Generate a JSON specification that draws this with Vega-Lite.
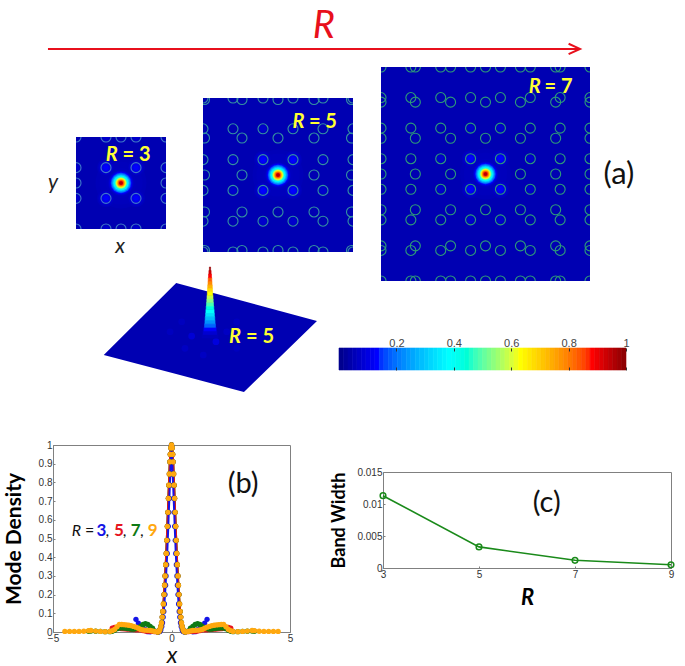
{"$schema":"https://vega.github.io/schema/vega-lite/v6.json","padding":0,"background":"white","spacing":0,
"config":{"view":{"stroke":null}},
"datasets":{
"peak":[
{"x":-1.5,"y":-0.5,"r":0.14,"d":0.06},{"x":-1.5,"y":0.5,"r":0.14,"d":0.06},{"x":1.5,"y":-0.5,"r":0.14,"d":0.06},{"x":1.5,"y":0.5,"r":0.14,"d":0.06},{"x":-0.5,"y":-1.5,"r":0.14,"d":0.06},{"x":-0.5,"y":1.5,"r":0.14,"d":0.06},{"x":0.5,"y":-1.5,"r":0.14,"d":0.06},{"x":0.5,"y":1.5,"r":0.14,"d":0.06},
{"x":-1.5,"y":-0.5,"r":0.1,"d":0.07},{"x":-1.5,"y":0.5,"r":0.1,"d":0.07},{"x":1.5,"y":-0.5,"r":0.1,"d":0.07},{"x":1.5,"y":0.5,"r":0.1,"d":0.07},{"x":-0.5,"y":-1.5,"r":0.1,"d":0.07},{"x":-0.5,"y":1.5,"r":0.1,"d":0.07},{"x":0.5,"y":-1.5,"r":0.1,"d":0.07},{"x":0.5,"y":1.5,"r":0.1,"d":0.07},
{"x":0,"y":0,"r":0.85,"d":0.047},{"x":0,"y":0,"r":0.72,"d":0.052},
{"x":-0.5,"y":-0.5,"r":0.3,"d":0.052},{"x":-0.5,"y":0.5,"r":0.3,"d":0.052},{"x":0.5,"y":-0.5,"r":0.3,"d":0.052},{"x":0.5,"y":0.5,"r":0.3,"d":0.052},
{"x":-0.5,"y":-0.5,"r":0.25,"d":0.065},{"x":-0.5,"y":0.5,"r":0.25,"d":0.065},{"x":0.5,"y":-0.5,"r":0.25,"d":0.065},{"x":0.5,"y":0.5,"r":0.25,"d":0.065},
{"x":-0.5,"y":-0.5,"r":0.2,"d":0.08},{"x":-0.5,"y":0.5,"r":0.2,"d":0.08},{"x":0.5,"y":-0.5,"r":0.2,"d":0.08},{"x":0.5,"y":0.5,"r":0.2,"d":0.08},
{"x":-0.5,"y":-0.5,"r":0.16,"d":0.095},{"x":-0.5,"y":0.5,"r":0.16,"d":0.095},{"x":0.5,"y":-0.5,"r":0.16,"d":0.095},{"x":0.5,"y":0.5,"r":0.16,"d":0.095},
{"x":-0.5,"y":-0.5,"r":0.12,"d":0.11},{"x":-0.5,"y":0.5,"r":0.12,"d":0.11},{"x":0.5,"y":-0.5,"r":0.12,"d":0.11},{"x":0.5,"y":0.5,"r":0.12,"d":0.11},
{"x":-0.5,"y":-0.5,"r":0.08,"d":0.125},{"x":-0.5,"y":0.5,"r":0.08,"d":0.125},{"x":0.5,"y":-0.5,"r":0.08,"d":0.125},{"x":0.5,"y":0.5,"r":0.08,"d":0.125},
{"x":0,"y":0,"r":0.5,"d":0.055},{"x":0,"y":0,"r":0.42,"d":0.07},{"x":0,"y":0,"r":0.39,"d":0.09},{"x":0,"y":0,"r":0.365,"d":0.12},{"x":0,"y":0,"r":0.34,"d":0.16},{"x":0,"y":0,"r":0.315,"d":0.2},{"x":0,"y":0,"r":0.29,"d":0.25},{"x":0,"y":0,"r":0.27,"d":0.3},{"x":0,"y":0,"r":0.245,"d":0.36},{"x":0,"y":0,"r":0.22,"d":0.42},{"x":0,"y":0,"r":0.2,"d":0.49},{"x":0,"y":0,"r":0.175,"d":0.565},{"x":0,"y":0,"r":0.155,"d":0.64},{"x":0,"y":0,"r":0.13,"d":0.715},{"x":0,"y":0,"r":0.11,"d":0.785},{"x":0,"y":0,"r":0.09,"d":0.845},{"x":0,"y":0,"r":0.07,"d":0.91},{"x":0,"y":0,"r":0.05,"d":0.95}
],
"bar":[{"a":0,"b":0.0156},{"a":0.0156,"b":0.0313},{"a":0.0313,"b":0.0469},{"a":0.0469,"b":0.0625},{"a":0.0625,"b":0.0781},{"a":0.0781,"b":0.0938},{"a":0.0938,"b":0.1094},{"a":0.1094,"b":0.125},{"a":0.125,"b":0.1406},{"a":0.1406,"b":0.1563},{"a":0.1563,"b":0.1719},{"a":0.1719,"b":0.1875},{"a":0.1875,"b":0.2031},{"a":0.2031,"b":0.2188},{"a":0.2188,"b":0.2344},{"a":0.2344,"b":0.25},{"a":0.25,"b":0.2656},{"a":0.2656,"b":0.2813},{"a":0.2813,"b":0.2969},{"a":0.2969,"b":0.3125},{"a":0.3125,"b":0.3281},{"a":0.3281,"b":0.3438},{"a":0.3438,"b":0.3594},{"a":0.3594,"b":0.375},{"a":0.375,"b":0.3906},{"a":0.3906,"b":0.4063},{"a":0.4063,"b":0.4219},{"a":0.4219,"b":0.4375},{"a":0.4375,"b":0.4531},{"a":0.4531,"b":0.4688},{"a":0.4688,"b":0.4844},{"a":0.4844,"b":0.5},{"a":0.5,"b":0.5156},{"a":0.5156,"b":0.5313},{"a":0.5313,"b":0.5469},{"a":0.5469,"b":0.5625},{"a":0.5625,"b":0.5781},{"a":0.5781,"b":0.5938},{"a":0.5938,"b":0.6094},{"a":0.6094,"b":0.625},{"a":0.625,"b":0.6406},{"a":0.6406,"b":0.6563},{"a":0.6563,"b":0.6719},{"a":0.6719,"b":0.6875},{"a":0.6875,"b":0.7031},{"a":0.7031,"b":0.7188},{"a":0.7188,"b":0.7344},{"a":0.7344,"b":0.75},{"a":0.75,"b":0.7656},{"a":0.7656,"b":0.7813},{"a":0.7813,"b":0.7969},{"a":0.7969,"b":0.8125},{"a":0.8125,"b":0.8281},{"a":0.8281,"b":0.8438},{"a":0.8438,"b":0.8594},{"a":0.8594,"b":0.875},{"a":0.875,"b":0.8906},{"a":0.8906,"b":0.9063},{"a":0.9063,"b":0.9219},{"a":0.9219,"b":0.9375},{"a":0.9375,"b":0.9531},{"a":0.9531,"b":0.9688},{"a":0.9688,"b":0.9844},{"a":0.9844,"b":1}],
"curves":[
{"x":-4.5,"r9":0.003},{"x":-4.3,"r9":0.003},{"x":-4.1,"r9":0.003},{"x":-3.9,"r9":0.003},{"x":-3.7,"r9":0.004},
{"x":-3.5,"r7":0.004,"r9":0.007},{"x":-3.4,"r7":0.005,"r9":0.008},{"x":-3.2,"r7":0.004,"r9":0.005},{"x":-3.0,"r7":0.003,"r9":0.003},{"x":-2.8,"r7":0.002,"r9":0.002},{"x":-2.6,"r7":0.002,"r9":0.003},
{"x":-2.5,"r5":0.02,"r7":0.004,"r9":0.007},{"x":-2.4,"r5":0.024,"r7":0.01,"r9":0.014},{"x":-2.3,"r5":0.022,"r7":0.018,"r9":0.028},{"x":-2.2,"r5":0.02,"r7":0.022,"r9":0.04},{"x":-2.1,"r5":0.018,"r7":0.022,"r9":0.04},{"x":-2.0,"r5":0.017,"r7":0.021,"r9":0.039},{"x":-1.9,"r5":0.016,"r7":0.02,"r9":0.038},{"x":-1.8,"r5":0.015,"r7":0.018,"r9":0.036},{"x":-1.7,"r5":0.014,"r7":0.016,"r9":0.034},{"x":-1.6,"r5":0.013,"r7":0.015,"r9":0.03},
{"x":-1.5,"r3":0.068,"r5":0.012,"r7":0.018,"r9":0.026},{"x":-1.4,"r3":0.048,"r5":0.012,"r7":0.022,"r9":0.02},{"x":-1.3,"r3":0.03,"r5":0.012,"r7":0.03,"r9":0.014},{"x":-1.2,"r3":0.022,"r5":0.008,"r7":0.04,"r9":0.011},{"x":-1.1,"r3":0.012,"r5":0.005,"r7":0.045,"r9":0.01},{"x":-1.0,"r3":0.002,"r5":0.004,"r7":0.04,"r9":0.009},{"x":-0.9,"r3":0.001,"r5":0.004,"r7":0.03,"r9":0.008},{"x":-0.8,"r3":0.003,"r5":0.004,"r7":0.02,"r9":0.006},{"x":-0.7,"r3":0.004,"r5":0.002,"r7":0.004,"r9":0.003},
{"x":-0.58,"r5":0,"r7":0,"r9":0},{"x":-0.54,"r3":0},{"x":-0.53,"r5":0.003,"r7":0.003,"r9":0.003},{"x":-0.49,"r3":0.003},{"x":-0.49,"r5":0.012,"r7":0.012,"r9":0.012},{"x":-0.45,"r3":0.012,"r5":0.03,"r7":0.03,"r9":0.03},{"x":-0.42,"r5":0.05,"r7":0.05,"r9":0.05},{"x":-0.41,"r3":0.03},{"x":-0.39,"r5":0.08,"r7":0.08,"r9":0.08},{"x":-0.38,"r3":0.05},{"x":-0.365,"r5":0.11,"r7":0.11,"r9":0.11},{"x":-0.35,"r3":0.08},{"x":-0.34,"r5":0.15,"r7":0.15,"r9":0.15},{"x":-0.325,"r3":0.11},{"x":-0.315,"r5":0.2,"r7":0.2,"r9":0.2},{"x":-0.3,"r3":0.15},{"x":-0.29,"r5":0.25,"r7":0.25,"r9":0.25},{"x":-0.275,"r3":0.2},{"x":-0.27,"r5":0.3,"r7":0.3,"r9":0.3},{"x":-0.25,"r3":0.25},{"x":-0.245,"r5":0.36,"r7":0.36,"r9":0.36},{"x":-0.23,"r3":0.3},{"x":-0.22,"r5":0.42,"r7":0.42,"r9":0.42},{"x":-0.205,"r3":0.36},{"x":-0.2,"r5":0.49,"r7":0.49,"r9":0.49},{"x":-0.18,"r3":0.42},{"x":-0.175,"r5":0.565,"r7":0.565,"r9":0.565},{"x":-0.16,"r3":0.49},{"x":-0.155,"r5":0.64,"r7":0.64,"r9":0.64},{"x":-0.135,"r3":0.565},{"x":-0.13,"r5":0.715,"r7":0.715,"r9":0.715},{"x":-0.115,"r3":0.64},{"x":-0.11,"r5":0.785,"r7":0.785,"r9":0.785},{"x":-0.09,"r3":0.715,"r5":0.845,"r7":0.845,"r9":0.845},{"x":-0.07,"r3":0.785,"r5":0.91,"r7":0.91,"r9":0.91},{"x":-0.05,"r3":0.845,"r5":0.95,"r7":0.95,"r9":0.95},{"x":-0.03,"r3":0.91,"r5":0.985,"r7":0.985,"r9":0.985},
{"x":0,"r3":1,"r5":1,"r7":1,"r9":1},
{"x":0.03,"r3":0.91,"r5":0.985,"r7":0.985,"r9":0.985},{"x":0.05,"r3":0.845,"r5":0.95,"r7":0.95,"r9":0.95},{"x":0.07,"r3":0.785,"r5":0.91,"r7":0.91,"r9":0.91},{"x":0.09,"r3":0.715,"r5":0.845,"r7":0.845,"r9":0.845},{"x":0.11,"r5":0.785,"r7":0.785,"r9":0.785},{"x":0.115,"r3":0.64},{"x":0.13,"r5":0.715,"r7":0.715,"r9":0.715},{"x":0.135,"r3":0.565},{"x":0.155,"r5":0.64,"r7":0.64,"r9":0.64},{"x":0.16,"r3":0.49},{"x":0.175,"r5":0.565,"r7":0.565,"r9":0.565},{"x":0.18,"r3":0.42},{"x":0.2,"r5":0.49,"r7":0.49,"r9":0.49},{"x":0.205,"r3":0.36},{"x":0.22,"r5":0.42,"r7":0.42,"r9":0.42},{"x":0.23,"r3":0.3},{"x":0.245,"r5":0.36,"r7":0.36,"r9":0.36},{"x":0.25,"r3":0.25},{"x":0.27,"r5":0.3,"r7":0.3,"r9":0.3},{"x":0.275,"r3":0.2},{"x":0.29,"r5":0.25,"r7":0.25,"r9":0.25},{"x":0.3,"r3":0.15},{"x":0.315,"r5":0.2,"r7":0.2,"r9":0.2},{"x":0.325,"r3":0.11},{"x":0.34,"r5":0.15,"r7":0.15,"r9":0.15},{"x":0.35,"r3":0.08},{"x":0.365,"r5":0.11,"r7":0.11,"r9":0.11},{"x":0.38,"r3":0.05},{"x":0.39,"r5":0.08,"r7":0.08,"r9":0.08},{"x":0.41,"r3":0.03},{"x":0.42,"r5":0.05,"r7":0.05,"r9":0.05},{"x":0.45,"r3":0.012,"r5":0.03,"r7":0.03,"r9":0.03},{"x":0.49,"r3":0.003},{"x":0.49,"r5":0.012,"r7":0.012,"r9":0.012},{"x":0.53,"r5":0.003,"r7":0.003,"r9":0.003},{"x":0.54,"r3":0},{"x":0.58,"r5":0,"r7":0,"r9":0},
{"x":0.7,"r3":0.004,"r5":0.002,"r7":0.004,"r9":0.003},{"x":0.8,"r3":0.003,"r5":0.004,"r7":0.02,"r9":0.006},{"x":0.9,"r3":0.001,"r5":0.004,"r7":0.03,"r9":0.008},{"x":1.0,"r3":0.002,"r5":0.004,"r7":0.04,"r9":0.009},{"x":1.1,"r3":0.012,"r5":0.005,"r7":0.045,"r9":0.01},{"x":1.2,"r3":0.022,"r5":0.008,"r7":0.04,"r9":0.011},{"x":1.3,"r3":0.03,"r5":0.012,"r7":0.03,"r9":0.014},{"x":1.4,"r3":0.048,"r5":0.012,"r7":0.022,"r9":0.02},{"x":1.5,"r3":0.068,"r5":0.012,"r7":0.018,"r9":0.026},
{"x":1.6,"r5":0.013,"r7":0.015,"r9":0.03},{"x":1.7,"r5":0.014,"r7":0.016,"r9":0.034},{"x":1.8,"r5":0.015,"r7":0.018,"r9":0.036},{"x":1.9,"r5":0.016,"r7":0.02,"r9":0.038},{"x":2.0,"r5":0.017,"r7":0.021,"r9":0.039},{"x":2.1,"r5":0.018,"r7":0.022,"r9":0.04},{"x":2.2,"r5":0.02,"r7":0.022,"r9":0.04},{"x":2.3,"r5":0.022,"r7":0.018,"r9":0.028},{"x":2.4,"r5":0.024,"r7":0.01,"r9":0.014},{"x":2.5,"r5":0.02,"r7":0.004,"r9":0.007},
{"x":2.6,"r7":0.002,"r9":0.003},{"x":2.8,"r7":0.002,"r9":0.002},{"x":3.0,"r7":0.003,"r9":0.003},{"x":3.2,"r7":0.004,"r9":0.005},{"x":3.4,"r7":0.005,"r9":0.008},{"x":3.5,"r7":0.004,"r9":0.007},
{"x":3.7,"r9":0.004},{"x":3.9,"r9":0.003},{"x":4.1,"r9":0.003},{"x":4.3,"r9":0.003},{"x":4.5,"r9":0.003}
]
},
"vconcat":[
{"width":685,"height":67,"layer":[
{"data":{"values":[{"from":3,"to":9,"lvl":0.27}]},"mark":{"type":"rule","color":"#e8101c","strokeWidth":2},"encoding":{"x":{"field":"from","type":"quantitative","scale":{"domain":[2.459,10.184],"nice":false,"zero":false},"axis":null},"x2":{"field":"to"},"y":{"field":"lvl","type":"quantitative","scale":{"domain":[0,1],"nice":false},"axis":null}}},
{"data":{"values":[{"to":9,"lvl":0.27}]},"mark":{"type":"point","shape":"M -2 -0.9 L 0 0 L -2 0.9","filled":false,"color":"#e8101c","strokeWidth":2,"size":130,"opacity":1},"encoding":{"x":{"field":"to","type":"quantitative"},"y":{"field":"lvl","type":"quantitative"}}},
{"data":{"values":[{"t":6.11,"lvl":0.59,"label":"R"}]},"mark":{"type":"text","font":"Lato","fontStyle":"italic","fontSize":38,"color":"#e8101c"},"encoding":{"x":{"field":"t","type":"quantitative"},"y":{"field":"lvl","type":"quantitative"},"text":{"field":"label"}}}
]},
{"vconcat":[
{"hconcat":[
{"width":76,"height":162,"data":{"values":[{"a":0.697,"b":0.284,"t":"y"}]},"mark":{"type":"text","font":"Lato","fontStyle":"italic","fontSize":21,"color":"#222"},"encoding":{"x":{"field":"a","type":"quantitative","scale":{"domain":[0,1],"nice":false},"axis":null},"y":{"field":"b","type":"quantitative","scale":{"domain":[0,1],"nice":false},"axis":null},"text":{"field":"t"}}},
{"vconcat":[
{"width":90,"height":70,"data":{"values":[]},"mark":"point"},
{"width":90,"height":92,"layer":[
{"data":{"values":[{"d":0.04}]},"mark":"rect","encoding":{"color":{"field":"d","type":"quantitative","legend":null,"scale":{"domain":[0,0.125,0.375,0.625,0.875,1],"range":["#00008f","#0000ff","#00ffff","#ffff00","#ff0000","#800000"]}}}},
{"data":{"name":"peak"},"mark":{"type":"point","filled":true,"opacity":1,"strokeWidth":0,"clip":true},"encoding":{"x":{"field":"x","type":"quantitative","scale":{"domain":[-1.5,1.5],"nice":false,"zero":false},"axis":null},"y":{"field":"y","type":"quantitative","scale":{"domain":[-1.5,1.5],"nice":false,"zero":false},"axis":null},"size":{"field":"r","type":"quantitative","legend":null,"scale":{"type":"pow","exponent":2,"domain":[0,1],"range":[0,3600]}},"color":{"field":"d","type":"quantitative"}}},
{"data":{"values":[{"x":-1.5,"y":-1.5},{"x":-1.5,"y":-0.5},{"x":-1.5,"y":0},{"x":-1.5,"y":0.5},{"x":-1.5,"y":1.5},{"x":-0.5,"y":-1.5},{"x":-0.5,"y":-0.5},{"x":-0.5,"y":0.5},{"x":-0.5,"y":1.5},{"x":0,"y":-1.5},{"x":0,"y":1.5},{"x":0.5,"y":-1.5},{"x":0.5,"y":-0.5},{"x":0.5,"y":0.5},{"x":0.5,"y":1.5},{"x":1.5,"y":-1.5},{"x":1.5,"y":-0.5},{"x":1.5,"y":0},{"x":1.5,"y":0.5},{"x":1.5,"y":1.5}]},"mark":{"type":"point","filled":false,"color":"#3f78c8","strokeWidth":1.1,"size":100,"opacity":1,"clip":true},"encoding":{"x":{"field":"x","type":"quantitative"},"y":{"field":"y","type":"quantitative"}}},
{"data":{"values":[{"x":-0.51,"y":0.9,"t":"R"}]},"mark":{"type":"text","font":"Lato","fontWeight":"bold","fontStyle":"italic","fontSize":20,"align":"left","color":"#ffff33"},"encoding":{"x":{"field":"x","type":"quantitative"},"y":{"field":"y","type":"quantitative"},"text":{"field":"t"}}},
{"data":{"values":[{"x":0.05,"y":0.9,"t":"= 3"}]},"mark":{"type":"text","font":"Lato","fontWeight":"bold","fontSize":20,"align":"left","color":"#ffff33"},"encoding":{"x":{"field":"x","type":"quantitative"},"y":{"field":"y","type":"quantitative"},"text":{"field":"t"}}}
]},
{"width":90,"height":30,"data":{"values":[{"a":0.49,"b":0.4,"t":"x"}]},"mark":{"type":"text","font":"Lato","fontStyle":"italic","fontSize":21,"color":"#222"},"encoding":{"x":{"field":"a","type":"quantitative","scale":{"domain":[0,1],"nice":false},"axis":null},"y":{"field":"b","type":"quantitative","scale":{"domain":[0,1],"nice":false},"axis":null},"text":{"field":"t"}}}
],"spacing":0},
{"width":37,"height":1,"data":{"values":[]},"mark":"point"},
{"vconcat":[
{"width":150,"height":31,"data":{"values":[]},"mark":"point"},
{"width":150,"height":154,"layer":[
{"data":{"values":[{"d":0.04}]},"mark":"rect","encoding":{"color":{"field":"d","type":"quantitative","legend":null,"scale":{"domain":[0,0.125,0.375,0.625,0.875,1],"range":["#00008f","#0000ff","#00ffff","#ffff00","#ff0000","#800000"]}}}},
{"data":{"name":"peak"},"mark":{"type":"point","filled":true,"opacity":1,"strokeWidth":0,"clip":true},"encoding":{"x":{"field":"x","type":"quantitative","scale":{"domain":[-2.5,2.5],"nice":false,"zero":false},"axis":null},"y":{"field":"y","type":"quantitative","scale":{"domain":[-2.5,2.5],"nice":false,"zero":false},"axis":null},"size":{"field":"r","type":"quantitative","legend":null,"scale":{"type":"pow","exponent":2,"domain":[0,1],"range":[0,3600]}},"color":{"field":"d","type":"quantitative"}}},
{"data":{"values":[{"x":-2.5,"y":-2.5},{"x":-2.5,"y":-1.5},{"x":-2.5,"y":-0.5},{"x":-2.5,"y":0.5},{"x":-2.5,"y":1.5},{"x":-2.5,"y":2.5},{"x":-1.5,"y":-2.5},{"x":-1.5,"y":-1.5},{"x":-1.5,"y":-0.5},{"x":-1.5,"y":0.5},{"x":-1.5,"y":1.5},{"x":-1.5,"y":2.5},{"x":-0.5,"y":-2.5},{"x":-0.5,"y":-1.5},{"x":-0.5,"y":-0.5},{"x":-0.5,"y":0.5},{"x":-0.5,"y":1.5},{"x":-0.5,"y":2.5},{"x":0.5,"y":-2.5},{"x":0.5,"y":-1.5},{"x":0.5,"y":-0.5},{"x":0.5,"y":0.5},{"x":0.5,"y":1.5},{"x":0.5,"y":2.5},{"x":1.5,"y":-2.5},{"x":1.5,"y":-1.5},{"x":1.5,"y":-0.5},{"x":1.5,"y":0.5},{"x":1.5,"y":1.5},{"x":1.5,"y":2.5},{"x":2.5,"y":-2.5},{"x":2.5,"y":-1.5},{"x":2.5,"y":-0.5},{"x":2.5,"y":0.5},{"x":2.5,"y":1.5},{"x":2.5,"y":2.5},{"x":-2.45,"y":-2.45},{"x":-2.45,"y":-1.2},{"x":-2.45,"y":0},{"x":-2.45,"y":1.2},{"x":-2.45,"y":2.45},{"x":-1.2,"y":-2.45},{"x":-1.2,"y":-1.2},{"x":-1.2,"y":0},{"x":-1.2,"y":1.2},{"x":-1.2,"y":2.45},{"x":0,"y":-2.45},{"x":0,"y":-1.2},{"x":0,"y":1.2},{"x":0,"y":2.45},{"x":1.2,"y":-2.45},{"x":1.2,"y":-1.2},{"x":1.2,"y":0},{"x":1.2,"y":1.2},{"x":1.2,"y":2.45},{"x":2.45,"y":-2.45},{"x":2.45,"y":-1.2},{"x":2.45,"y":0},{"x":2.45,"y":1.2},{"x":2.45,"y":2.45}]},"mark":{"type":"point","filled":false,"color":"#3592a0","strokeWidth":1.1,"size":100,"opacity":1,"clip":true},"encoding":{"x":{"field":"x","type":"quantitative"},"y":{"field":"y","type":"quantitative"}}},
{"data":{"values":[{"x":0.48,"y":1.73,"t":"R"}]},"mark":{"type":"text","font":"Lato","fontWeight":"bold","fontStyle":"italic","fontSize":20,"align":"left","color":"#ffff33"},"encoding":{"x":{"field":"x","type":"quantitative"},"y":{"field":"y","type":"quantitative"},"text":{"field":"t"}}},
{"data":{"values":[{"x":1.03,"y":1.73,"t":"= 5"}]},"mark":{"type":"text","font":"Lato","fontWeight":"bold","fontSize":20,"align":"left","color":"#ffff33"},"encoding":{"x":{"field":"x","type":"quantitative"},"y":{"field":"y","type":"quantitative"},"text":{"field":"t"}}}
]}
],"spacing":0},
{"width":28,"height":1,"data":{"values":[]},"mark":"point"},
{"width":209,"height":214,"layer":[
{"data":{"values":[{"d":0.04}]},"mark":"rect","encoding":{"color":{"field":"d","type":"quantitative","legend":null,"scale":{"domain":[0,0.125,0.375,0.625,0.875,1],"range":["#00008f","#0000ff","#00ffff","#ffff00","#ff0000","#800000"]}}}},
{"data":{"name":"peak"},"mark":{"type":"point","filled":true,"opacity":1,"strokeWidth":0,"clip":true},"encoding":{"x":{"field":"x","type":"quantitative","scale":{"domain":[-3.5,3.5],"nice":false,"zero":false},"axis":null},"y":{"field":"y","type":"quantitative","scale":{"domain":[-3.5,3.5],"nice":false,"zero":false},"axis":{"orient":"right","title":"(a)","ticks":false,"labels":false,"domain":false,"grid":false,"titleAngle":0,"titleFont":"Lato","titleFontWeight":"normal","titleFontSize":31,"titlePadding":13,"titleColor":"#111","titleAlign":"left","titleBaseline":"middle"}},"size":{"field":"r","type":"quantitative","legend":null,"scale":{"type":"pow","exponent":2,"domain":[0,1],"range":[0,3600]}},"color":{"field":"d","type":"quantitative"}}},
{"data":{"values":[{"x":-3.5,"y":-3.5},{"x":-3.5,"y":-2.5},{"x":-3.5,"y":-1.5},{"x":-3.5,"y":-0.5},{"x":-3.5,"y":0.5},{"x":-3.5,"y":1.5},{"x":-3.5,"y":2.5},{"x":-3.5,"y":3.5},{"x":-2.5,"y":-3.5},{"x":-2.5,"y":-2.5},{"x":-2.5,"y":-1.5},{"x":-2.5,"y":-0.5},{"x":-2.5,"y":0.5},{"x":-2.5,"y":1.5},{"x":-2.5,"y":2.5},{"x":-2.5,"y":3.5},{"x":-1.5,"y":-3.5},{"x":-1.5,"y":-2.5},{"x":-1.5,"y":-1.5},{"x":-1.5,"y":-0.5},{"x":-1.5,"y":0.5},{"x":-1.5,"y":1.5},{"x":-1.5,"y":2.5},{"x":-1.5,"y":3.5},{"x":-0.5,"y":-3.5},{"x":-0.5,"y":-2.5},{"x":-0.5,"y":-1.5},{"x":-0.5,"y":-0.5},{"x":-0.5,"y":0.5},{"x":-0.5,"y":1.5},{"x":-0.5,"y":2.5},{"x":-0.5,"y":3.5},{"x":0.5,"y":-3.5},{"x":0.5,"y":-2.5},{"x":0.5,"y":-1.5},{"x":0.5,"y":-0.5},{"x":0.5,"y":0.5},{"x":0.5,"y":1.5},{"x":0.5,"y":2.5},{"x":0.5,"y":3.5},{"x":1.5,"y":-3.5},{"x":1.5,"y":-2.5},{"x":1.5,"y":-1.5},{"x":1.5,"y":-0.5},{"x":1.5,"y":0.5},{"x":1.5,"y":1.5},{"x":1.5,"y":2.5},{"x":1.5,"y":3.5},{"x":2.5,"y":-3.5},{"x":2.5,"y":-2.5},{"x":2.5,"y":-1.5},{"x":2.5,"y":-0.5},{"x":2.5,"y":0.5},{"x":2.5,"y":1.5},{"x":2.5,"y":2.5},{"x":2.5,"y":3.5},{"x":3.5,"y":-3.5},{"x":3.5,"y":-2.5},{"x":3.5,"y":-1.5},{"x":3.5,"y":-0.5},{"x":3.5,"y":0.5},{"x":3.5,"y":1.5},{"x":3.5,"y":2.5},{"x":3.5,"y":3.5},{"x":-3.5,"y":-2.35},{"x":-3.5,"y":-1.17},{"x":-3.5,"y":0},{"x":-3.5,"y":1.17},{"x":-3.5,"y":2.35},{"x":-2.35,"y":-3.5},{"x":-2.35,"y":-2.35},{"x":-2.35,"y":-1.17},{"x":-2.35,"y":0},{"x":-2.35,"y":1.17},{"x":-2.35,"y":2.35},{"x":-2.35,"y":3.5},{"x":-1.17,"y":-3.5},{"x":-1.17,"y":-2.35},{"x":-1.17,"y":-1.17},{"x":-1.17,"y":0},{"x":-1.17,"y":1.17},{"x":-1.17,"y":2.35},{"x":-1.17,"y":3.5},{"x":0,"y":-3.5},{"x":0,"y":-2.35},{"x":0,"y":-1.17},{"x":0,"y":1.17},{"x":0,"y":2.35},{"x":0,"y":3.5},{"x":1.17,"y":-3.5},{"x":1.17,"y":-2.35},{"x":1.17,"y":-1.17},{"x":1.17,"y":0},{"x":1.17,"y":1.17},{"x":1.17,"y":2.35},{"x":1.17,"y":3.5},{"x":2.35,"y":-3.5},{"x":2.35,"y":-2.35},{"x":2.35,"y":-1.17},{"x":2.35,"y":0},{"x":2.35,"y":1.17},{"x":2.35,"y":2.35},{"x":2.35,"y":3.5},{"x":3.5,"y":-2.35},{"x":3.5,"y":-1.17},{"x":3.5,"y":0},{"x":3.5,"y":1.17},{"x":3.5,"y":2.35}]},"mark":{"type":"point","filled":false,"color":"#2e9c78","strokeWidth":1.1,"size":100,"opacity":1,"clip":true},"encoding":{"x":{"field":"x","type":"quantitative"},"y":{"field":"y","type":"quantitative"}}},
{"data":{"values":[{"x":1.45,"y":2.83,"t":"R"}]},"mark":{"type":"text","font":"Lato","fontWeight":"bold","fontStyle":"italic","fontSize":20,"align":"left","color":"#ffff33"},"encoding":{"x":{"field":"x","type":"quantitative"},"y":{"field":"y","type":"quantitative"},"text":{"field":"t"}}},
{"data":{"values":[{"x":1.98,"y":2.83,"t":"= 7"}]},"mark":{"type":"text","font":"Lato","fontWeight":"bold","fontSize":20,"align":"left","color":"#ffff33"},"encoding":{"x":{"field":"x","type":"quantitative"},"y":{"field":"y","type":"quantitative"},"text":{"field":"t"}}}
]}
],"spacing":0},
{"width":1,"height":200,"data":{"values":[]},"mark":"point"},
{"hconcat":[
{"width":338,"height":133,"layer":[
{"data":{"values":[{"x":-7.13,"lo":-1.14,"hi":-1.14,"d":0.04},{"x":-2.27,"lo":-2.42,"hi":3.69,"d":0.04},{"x":2.28,"lo":-3.62,"hi":2.46,"d":0.04},{"x":7.18,"lo":1.14,"hi":1.14,"d":0.04}]},"mark":{"type":"area","line":false},"encoding":{"x":{"field":"x","type":"quantitative","scale":{"domain":[-14.094,8.591],"nice":false,"zero":false},"axis":null},"y":{"field":"lo","type":"quantitative","scale":{"domain":[-4.161,4.765],"nice":false,"zero":false},"axis":null},"y2":{"field":"hi"},"color":{"field":"d","type":"quantitative","legend":null,"scale":{"domain":[0,0.125,0.375,0.625,0.875,1],"range":["#00008f","#0000ff","#00ffff","#ffff00","#ff0000","#800000"]}}}},
{"data":{"values":[{"x":-1.23,"y":0.13,"d":0.08},{"x":0.4,"y":-0.25,"d":0.09},{"x":-0.45,"y":-1.14,"d":0.06},{"x":-1.68,"y":-0.69,"d":0.06},{"x":-2.68,"y":0.42,"d":0.055},{"x":-1.9,"y":1.09,"d":0.055},{"x":1.79,"y":1.09,"d":0.055},{"x":1.79,"y":-0.69,"d":0.055},{"x":1.12,"y":0.42,"d":0.06}]},"mark":{"type":"point","filled":true,"opacity":1,"strokeWidth":0,"size":45},"encoding":{"x":{"field":"x","type":"quantitative"},"y":{"field":"y","type":"quantitative"},"color":{"field":"d","type":"quantitative"}}},
{"data":{"values":[{"x0":-0.54,"x1":0.54,"y0":0,"y1":0.238,"d":0.05},{"x0":-0.46,"x1":0.46,"y0":0.238,"y1":0.477,"d":0.075},{"x0":-0.41,"x1":0.41,"y0":0.477,"y1":0.715,"d":0.125},{"x0":-0.37,"x1":0.37,"y0":0.715,"y1":0.953,"d":0.175},{"x0":-0.34,"x1":0.34,"y0":0.953,"y1":1.191,"d":0.225},{"x0":-0.32,"x1":0.32,"y0":1.191,"y1":1.43,"d":0.275},{"x0":-0.295,"x1":0.295,"y0":1.43,"y1":1.668,"d":0.325},{"x0":-0.275,"x1":0.275,"y0":1.668,"y1":1.906,"d":0.375},{"x0":-0.255,"x1":0.255,"y0":1.906,"y1":2.144,"d":0.425},{"x0":-0.235,"x1":0.235,"y0":2.144,"y1":2.383,"d":0.475},{"x0":-0.215,"x1":0.215,"y0":2.383,"y1":2.62,"d":0.525},{"x0":-0.2,"x1":0.2,"y0":2.62,"y1":2.86,"d":0.575},{"x0":-0.18,"x1":0.18,"y0":2.86,"y1":3.1,"d":0.625},{"x0":-0.168,"x1":0.168,"y0":3.1,"y1":3.34,"d":0.675},{"x0":-0.154,"x1":0.154,"y0":3.34,"y1":3.57,"d":0.725},{"x0":-0.134,"x1":0.134,"y0":3.57,"y1":3.81,"d":0.775},{"x0":-0.12,"x1":0.12,"y0":3.81,"y1":4.05,"d":0.825},{"x0":-0.1,"x1":0.1,"y0":4.05,"y1":4.29,"d":0.875},{"x0":-0.074,"x1":0.074,"y0":4.29,"y1":4.53,"d":0.925},{"x0":-0.04,"x1":0.04,"y0":4.53,"y1":4.765,"d":0.975}]},"mark":{"type":"rect","strokeWidth":0.6},"encoding":{"x":{"field":"x0","type":"quantitative"},"x2":{"field":"x1"},"y":{"field":"y0","type":"quantitative"},"y2":{"field":"y1"},"color":{"field":"d","type":"quantitative"},"stroke":{"field":"d","type":"quantitative","legend":null,"scale":{"domain":[0,0.125,0.375,0.625,0.875,1],"range":["#00008f","#0000ff","#00ffff","#ffff00","#ff0000","#800000"]}}}},
{"data":{"values":[{"x":1.27,"y":0.07,"t":"R"}]},"mark":{"type":"text","font":"Lato","fontWeight":"bold","fontStyle":"italic","fontSize":20,"align":"left","color":"#ffff33"},"encoding":{"x":{"field":"x","type":"quantitative"},"y":{"field":"y","type":"quantitative"},"text":{"field":"t"}}},
{"data":{"values":[{"x":2.42,"y":0.07,"t":"= 5"}]},"mark":{"type":"text","font":"Lato","fontWeight":"bold","fontSize":20,"align":"left","color":"#ffff33"},"encoding":{"x":{"field":"x","type":"quantitative"},"y":{"field":"y","type":"quantitative"},"text":{"field":"t"}}}
]},
{"vconcat":[
{"width":287,"height":70,"data":{"values":[]},"mark":"point"},
{"width":287,"height":22,"layer":[
{"data":{"name":"bar"},"mark":{"type":"rect","strokeWidth":0.6},"encoding":{"x":{"field":"a","type":"quantitative","scale":{"domain":[0,1],"nice":false,"zero":false},"axis":{"orient":"top","title":null,"values":[0.2,0.4,0.6,0.8,1],"format":"~g","grid":false,"domain":false,"tickSize":-3,"tickColor":"#333","labelFont":"Liberation Sans","labelFontSize":11,"labelColor":"#444","labelPadding":3,"labelFlush":false,"labelOverlap":false,"zindex":1}},"x2":{"field":"b"},"y":{"datum":0,"type":"quantitative","scale":{"domain":[0,1],"nice":false},"axis":null},"y2":{"datum":1},"color":{"field":"a","type":"quantitative","legend":null,"scale":{"domain":[0,0.125,0.375,0.625,0.875,1],"range":["#00008f","#0000ff","#00ffff","#ffff00","#ff0000","#800000"]}},"stroke":{"field":"a","type":"quantitative","legend":null,"scale":{"domain":[0,0.125,0.375,0.625,0.875,1],"range":["#00008f","#0000ff","#00ffff","#ffff00","#ff0000","#800000"]}}}},
{"data":{"name":"bar"},"mark":{"type":"rect","opacity":0},"encoding":{"x":{"field":"a","type":"quantitative","axis":{"orient":"bottom","title":null,"values":[0.2,0.4,0.6,0.8,1],"labels":false,"grid":false,"domain":false,"tickSize":-3,"tickColor":"#333","zindex":1}},"x2":{"field":"b"},"y":{"datum":0,"type":"quantitative"},"y2":{"datum":1}}}
],"resolve":{"axis":{"x":"independent"}}}
],"spacing":0}
],"spacing":0}
],"spacing":0,"bounds":"flush"},
{"hconcat":[
{"width":2,"height":1,"data":{"values":[]},"mark":"point"},
{"vconcat":[
{"width":237,"height":39,"data":{"values":[]},"mark":"point"},
{"width":237,"height":187,"view":{"stroke":"#808080"},"layer":[
{"data":{"name":"curves"},"transform":[{"fold":["r3","r5","r7","r9"],"as":["series","density"]},{"filter":{"field":"density","valid":true}}],"mark":{"type":"line","strokeWidth":2},"encoding":{"x":{"field":"x","type":"quantitative","scale":{"domain":[-5,5],"nice":false,"zero":false},"axis":{"title":"x","values":[-5,0,5],"tickCount":20,"format":"~g","grid":false,"domainColor":"#808080","tickColor":"#808080","tickSize":-2,"labelFont":"Liberation Sans","labelFontSize":10,"labelColor":"#333","labelPadding":3,"labelFlush":false,"labelOverlap":false,"titleFont":"Lato","titleFontStyle":"italic","titleFontWeight":"normal","titleFontSize":23,"titleColor":"#111","titlePadding":1}},"y":{"field":"density","type":"quantitative","scale":{"domain":[0,1],"nice":false},"axis":{"title":"Mode Density","values":[0,0.1,0.2,0.3,0.4,0.5,0.6,0.7,0.8,0.9,1],"tickCount":20,"format":"~g","grid":false,"domainColor":"#808080","tickColor":"#808080","tickSize":-2,"labelFont":"Liberation Sans","labelFontSize":10,"labelColor":"#333","labelPadding":3,"labelFlush":false,"labelOverlap":false,"titleFont":"Lato","titleFontWeight":"bold","titleFontSize":21,"titleColor":"#000","titlePadding":14}},"color":{"field":"series","type":"nominal","legend":null,"scale":{"domain":["r3","r5","r7","r9","none"],"range":["#1414e6","#e6141e","#0f7a14","#ffa80f","#111111"]}}}},
{"data":{"name":"curves"},"transform":[{"fold":["r3","r5","r7","r9"],"as":["series","density"]},{"filter":{"field":"density","valid":true}}],"mark":{"type":"point","filled":true,"opacity":1,"size":28,"strokeWidth":0},"encoding":{"x":{"field":"x","type":"quantitative"},"y":{"field":"density","type":"quantitative"},"color":{"field":"series","type":"nominal"},"order":{"field":"series"}}},
{"data":{"values":[{"x":-4.21,"y":0.54,"t":"R","series":"none"}]},"mark":{"type":"text","font":"Lato","fontStyle":"italic","fontSize":16,"align":"left"},"encoding":{"x":{"field":"x","type":"quantitative"},"y":{"field":"y","type":"quantitative"},"text":{"field":"t"},"color":{"field":"series","type":"nominal"}}},
{"data":{"values":[{"x":-3.65,"y":0.54,"t":"=","series":"none"},{"x":-2.79,"y":0.54,"t":",","series":"none"},{"x":-2.06,"y":0.54,"t":",","series":"none"},{"x":-1.33,"y":0.54,"t":",","series":"none"}]},"mark":{"type":"text","font":"Lato","fontSize":16,"align":"left"},"encoding":{"x":{"field":"x","type":"quantitative"},"y":{"field":"y","type":"quantitative"},"text":{"field":"t"},"color":{"field":"series","type":"nominal"}}},
{"data":{"values":[{"x":-3.16,"y":0.54,"t":"3","series":"r3"},{"x":-2.43,"y":0.54,"t":"5","series":"r5"},{"x":-1.72,"y":0.54,"t":"7","series":"r7"},{"x":-1.0,"y":0.54,"t":"9","series":"r9"}]},"mark":{"type":"text","font":"Lato","fontWeight":"bold","fontSize":17,"align":"left"},"encoding":{"x":{"field":"x","type":"quantitative"},"y":{"field":"y","type":"quantitative"},"text":{"field":"t"},"color":{"field":"series","type":"nominal"}}},
{"data":{"values":[{"x":3.02,"y":0.79,"t":"(b)"}]},"mark":{"type":"text","font":"Lato","fontSize":29,"color":"#111"},"encoding":{"x":{"field":"x","type":"quantitative"},"y":{"field":"y","type":"quantitative"},"text":{"field":"t"}}}
]}
],"spacing":0},
{"width":36,"height":1,"data":{"values":[]},"mark":"point"},
{"vconcat":[
{"width":288,"height":66,"data":{"values":[]},"mark":"point"},
{"width":288,"height":96,"view":{"stroke":"#808080"},"layer":[
{"data":{"values":[{"R":3,"w":0.0113},{"R":5,"w":0.0033},{"R":7,"w":0.0012},{"R":9,"w":0.0005}]},"mark":{"type":"line","color":"#1a8a1a","strokeWidth":1.6,"point":{"filled":false,"stroke":"#1a8a1a","fill":null,"size":32,"strokeWidth":1.5,"opacity":1}},"encoding":{"x":{"field":"R","type":"quantitative","scale":{"domain":[3,9],"nice":false,"zero":false},"axis":{"title":"R","values":[3,5,7,9],"tickCount":20,"format":"~g","grid":false,"domainColor":"#808080","tickColor":"#808080","tickSize":-2,"labelFont":"Liberation Sans","labelFontSize":10,"labelColor":"#333","labelPadding":3,"labelFlush":false,"labelOverlap":false,"titleFont":"Lato","titleFontStyle":"italic","titleFontWeight":"bold","titleFontSize":22,"titleColor":"#000","titlePadding":8}},"y":{"field":"w","type":"quantitative","scale":{"domain":[0,0.015],"nice":false},"axis":{"title":"Band Width","values":[0,0.005,0.01,0.015],"tickCount":20,"format":"~g","grid":false,"domainColor":"#808080","tickColor":"#808080","tickSize":-2,"labelFont":"Liberation Sans","labelFontSize":10,"labelColor":"#333","labelPadding":3,"labelFlush":false,"labelOverlap":false,"titleFont":"Lato","titleFontWeight":"bold","titleFontSize":18,"titleColor":"#000","titlePadding":8}}}},
{"data":{"values":[{"R":6.41,"w":0.0101,"t":"(c)"}]},"mark":{"type":"text","font":"Lato","fontSize":29,"color":"#111"},"encoding":{"x":{"field":"R","type":"quantitative"},"y":{"field":"w","type":"quantitative"},"text":{"field":"t"}}}
]}
],"spacing":0}
],"spacing":0}
]}
